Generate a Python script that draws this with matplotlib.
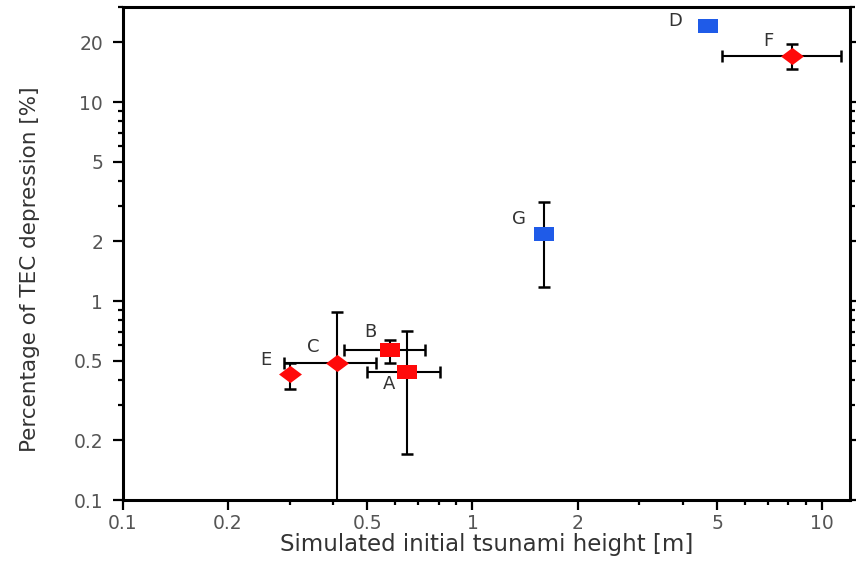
import numpy as np
import matplotlib
matplotlib.use('Agg')
import matplotlib.pyplot as plt
from matplotlib.path import Path
from matplotlib.ticker import FixedLocator, FixedFormatter, NullFormatter

plt.rcParams['font.family'] = ['DejaVu Sans']

# events, simulated initial tsunami height [m] and TEC depression [%]
names = ['A', 'B', 'C', 'D', 'E', 'F', 'G']
height = [0.65, 0.58, 0.41, 4.7, 0.30, 8.2, 1.6]
height_lo = [0.50, 0.43, 0.29, np.nan, np.nan, 5.16, np.nan]
height_hi = [0.81, 0.73, 0.53, np.nan, np.nan, 11.3, np.nan]
tec = [0.44, 0.57, 0.49, 24.0, 0.43, 17.0, 2.17]
tec_lo = [0.17, 0.49, 0.05, np.nan, 0.36, 14.6, 1.17]
tec_hi = [0.71, 0.64, 0.88, np.nan, 0.49, 19.6, 3.14]
kind = ['sq_red', 'sq_red', 'dia_red', 'sq_blue', 'dia_red', 'dia_red', 'sq_blue']

# label offsets in points (dx, dy)
offsets = {'A': (-13, -9), 'B': (-14, 13), 'C': (-17, 11), 'D': (-23, 4),
           'E': (-17, 10), 'F': (-17, 11), 'G': (-18, 11)}

RED = '#ff0a0a'
BLUE = '#1f5be8'
rect = Path([(-1, -0.65), (1, -0.65), (1, 0.65), (-1, 0.65), (-1, -0.65)],
            [Path.MOVETO, Path.LINETO, Path.LINETO, Path.LINETO, Path.CLOSEPOLY])
diam = Path([(-1, 0), (0, 0.75), (1, 0), (0, -0.75), (-1, 0)],
            [Path.MOVETO, Path.LINETO, Path.LINETO, Path.LINETO, Path.CLOSEPOLY])
styles = {'sq_red': (rect, RED, 14.5), 'dia_red': (diam, RED, 16.5),
          'sq_blue': (rect, BLUE, 14.5)}

fig = plt.figure(figsize=(8.56, 5.65), dpi=100)
ax = fig.add_axes([0.1433, 0.115, 0.8497, 0.8725])
ax.set_xscale('log')
ax.set_yscale('log')

for i, n in enumerate(names):
    x, y = height[i], tec[i]
    xerr = None
    if not np.isnan(height_lo[i]):
        xerr = [[x - height_lo[i]], [height_hi[i] - x]]
    yerr = None
    if not np.isnan(tec_lo[i]):
        yerr = [[y - tec_lo[i]], [tec_hi[i] - y]]
    if xerr is not None or yerr is not None:
        ax.errorbar([x], [y], xerr=xerr, yerr=yerr, fmt='none', ecolor='black',
                    elinewidth=1.5, capsize=4, capthick=1.8, zorder=2)
    mk, col, ms = styles[kind[i]]
    ax.plot([x], [y], linestyle='none', marker=mk, markersize=ms,
            color=col, markeredgewidth=0, zorder=3)
    ax.annotate(n, (x, y), xytext=offsets[n], textcoords='offset points',
                ha='center', va='center', fontsize=13, color='#333333')

ax.set_xlim(0.1, 12)
ax.set_ylim(0.1, 30)

xmaj = [0.1, 0.2, 0.5, 1, 2, 5, 10]
ymaj = [0.1, 0.2, 0.5, 1, 2, 5, 10, 20]
ax.xaxis.set_major_locator(FixedLocator(xmaj))
ax.xaxis.set_major_formatter(FixedFormatter(['0.1', '0.2', '0.5', '1', '2', '5', '10']))
ax.yaxis.set_major_locator(FixedLocator(ymaj))
ax.yaxis.set_major_formatter(FixedFormatter(['0.1', '0.2', '0.5', '1', '2', '5', '10', '20']))
minors = [v * d for d in (0.1, 1, 10) for v in (3, 4, 6, 7, 8, 9)]
ax.xaxis.set_minor_locator(FixedLocator(minors))
ax.yaxis.set_minor_locator(FixedLocator(minors))
ax.xaxis.set_minor_formatter(NullFormatter())
ax.yaxis.set_minor_formatter(NullFormatter())

for s in ax.spines.values():
    s.set_linewidth(2.2)
ax.tick_params(which='both', direction='out', right=True, top=False,
               labelcolor='#555555', labelsize=13.5, width=1.6)
ax.tick_params(which='major', length=7, pad=3)
ax.tick_params(axis='y', which='major', pad=7)
ax.tick_params(which='minor', length=3.5)

ax.set_xlabel('Simulated initial tsunami height [m]', fontsize=16.5, color='#333333', labelpad=0)
ax.set_ylabel('Percentage of TEC depression [%]', fontsize=15.5, color='#333333')
ax.yaxis.set_label_coords(-0.113, 0.468)

fig.savefig('out.png', dpi=100)
